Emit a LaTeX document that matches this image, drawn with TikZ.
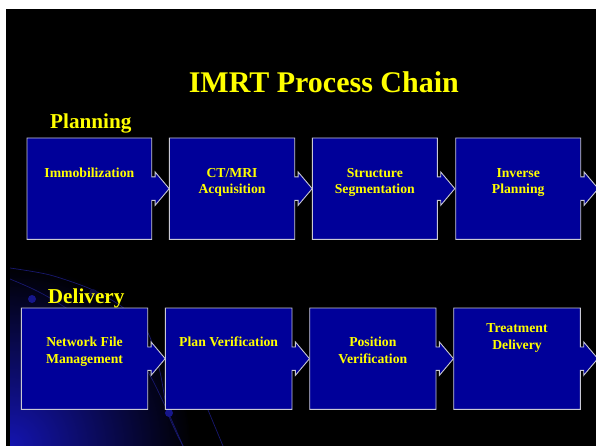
\documentclass[tikz,border=0pt]{standalone}
\usepackage{fontspec}
\setmainfont{Liberation Serif}
\usetikzlibrary{calc}

\definecolor{stageblue}{RGB}{0,0,153}
\definecolor{edgegray}{RGB}{200,200,212}
\definecolor{headyellow}{RGB}{255,255,0}
\definecolor{swooshblue}{RGB}{20,20,175}
\definecolor{arcblue}{RGB}{24,24,110}
\definecolor{dotblue}{RGB}{22,22,140}

% outline of a process stage: rectangle with a notched arrow on its right side
\newcommand\chainoutline[1]{%
  \draw[stageedge] (#1.north west) -- (#1.north east)
    -- ($(#1.east)+(0,-11.7)$) -- ++(3.4,0) -- ++(0,-5)
    -- ($(#1.east)+(17.5,0)$)
    -- ($(#1.east)+(3.4,16.7)$) -- ++(0,-5) -- ($(#1.east)+(0,11.7)$)
    -- (#1.south east) -- (#1.south west) -- cycle;}

\begin{document}
\begin{tikzpicture}[x=1pt,y=-1pt,
  stageframe/.style={inner sep=0pt, outer sep=0pt, minimum height=101.3pt},
  stageedge/.style={draw=edgegray, fill=stageblue, line width=0.9pt, line join=miter},
  stagetext/.style={text=headyellow, font=\fontsize{13.7}{16.6}\selectfont\bfseries,
    align=center, inner sep=0pt, anchor=base},
  headline/.style={text=headyellow, font=\fontsize{30}{36}\selectfont\bfseries,
    inner sep=0pt, anchor=base},
  section/.style={text=headyellow, font=\fontsize{21.2}{25}\selectfont\bfseries,
    inner sep=0pt, anchor=base west},
  arcline/.style={draw=arcblue, line width=0.7pt}]

\useasboundingbox (0,0) rectangle (596,446);
\fill[white] (0,0) rectangle (596,446);
\fill[black] (6,9) rectangle (596,446);

% blue swoosh in the lower left corner
\begin{scope}
  \clip (10,446) circle (180pt);
  \clip (10,9) rectangle (596,446);
  \shade[inner color=swooshblue, outer color=black] (10,446) circle (182pt);
\end{scope}
\draw[arcline] plot[smooth] coordinates {(10,268) (50,275) (93,290) (125,309) (148,333) (160,372) (167,410) (175,430) (183,446)};
\draw[arcline] plot[smooth] coordinates {(10,279) (33,289) (55,301) (100,330) (130,352) (148,372) (167,410) (183,446)};
\draw[arcline] plot[smooth] coordinates {(185,360) (200,392) (208,410) (223,446)};
\fill[dotblue] (32,299) circle (4pt);
\fill[arcblue!60!black] (93,293) circle (4pt);
\fill[dotblue] (169,413) circle (4pt);

% headings
\node[headline] (title) at (323.8,92.3) {IMRT Process Chain};
\node[section] (planning) at (50,128.3) {Planning};
\node[section] (delivery) at (47.7,303.3) {Delivery};

% planning chain
\node[stageframe, minimum width=124.7pt] (imm) at (89.35,188.65) {};
\node[stageframe, minimum width=125.4pt] (ct)  at (232,188.65) {};
\node[stageframe, minimum width=125pt]   (seg) at (374.8,188.65) {};
\node[stageframe, minimum width=125pt]   (inv) at (518.2,188.65) {};
\chainoutline{imm}
\chainoutline{ct}
\chainoutline{seg}
\chainoutline{inv}
\node[stagetext] (imm-t) at ($(imm.north)+(0,39.3)$) {Immobilization};
\node[stagetext] (ct-t)  at ($(ct.north)+(0,55.9)$)  {CT/MRI\\Acquisition};
\node[stagetext] (seg-t) at ($(seg.north)+(0,55.9)$) {Structure\\Segmentation};
\node[stagetext] (inv-t) at ($(inv.north)+(0,55.9)$) {Inverse\\Planning};

% delivery chain
\node[stageframe, minimum width=126.4pt] (net) at (84.5,358.65) {};
\node[stageframe, minimum width=126.7pt] (pv)  at (228.65,358.65) {};
\node[stageframe, minimum width=126.3pt] (pos) at (372.85,358.65) {};
\node[stageframe, minimum width=126.6pt] (td)  at (517,358.65) {};
\chainoutline{net}
\chainoutline{pv}
\chainoutline{pos}
\chainoutline{td}
\node[stagetext] (net-t) at ($(net.north)+(0,55.2)$) {Network File\\Management};
\node[stagetext] (pv-t)  at ($(pv.north)+(0,38.6)$)  {Plan Verification};
\node[stagetext] (pos-t) at ($(pos.north)+(0,55.2)$) {Position\\Verification};
\node[stagetext] (td-t)  at ($(td.north)+(0,41.2)$)  {Treatment\\Delivery};
\end{tikzpicture}
\end{document}
